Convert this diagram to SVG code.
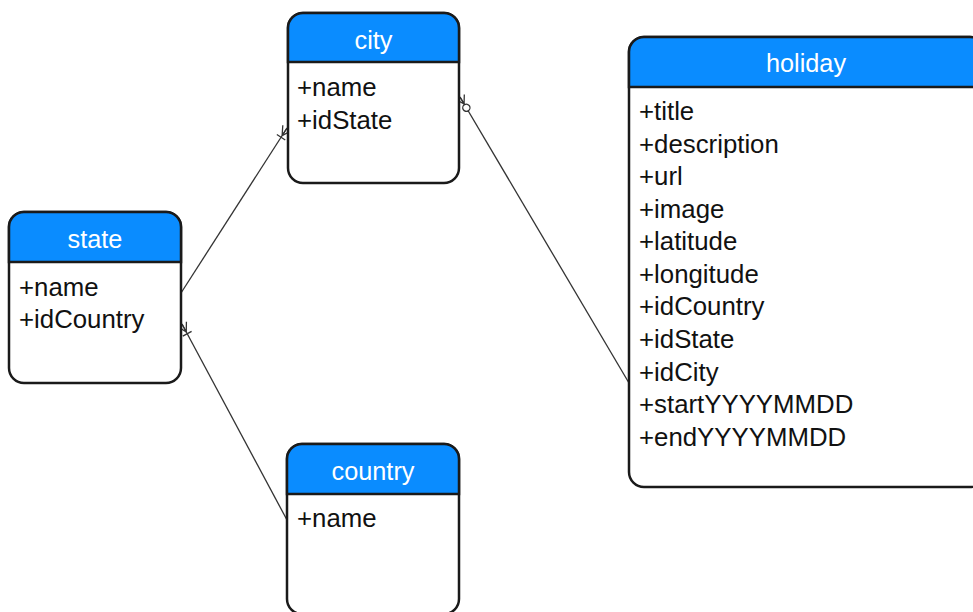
<svg xmlns="http://www.w3.org/2000/svg" width="973" height="612" viewBox="0 0 973 612">
  <style>
    .box { fill: #ffffff; stroke: #1a1a1a; stroke-width: 2.5; }
    .head { fill: #0a8cff; stroke: #1a1a1a; stroke-width: 2.5; }
    .title { font-family: "Liberation Sans", Arial, sans-serif; font-size: 25.3px; fill: #ffffff; text-anchor: middle; }
    .attr { font-family: "Liberation Sans", Arial, sans-serif; font-size: 25.8px; fill: #111111; }
    .link { fill: none; stroke: #333333; stroke-width: 1.3; }
  </style>
  <defs>
    <!-- one-or-many: crow's foot with a bar -->
    <marker id="many" markerUnits="userSpaceOnUse" viewBox="-16 -8 18 16" refX="0" refY="0" markerWidth="18" markerHeight="16" orient="auto" overflow="visible">
      <path d="M-9,0 L0,-5 M-9,0 L0,0 M-9,0 L0,5 M-11,-5 L-11,5" fill="none" stroke="#333333" stroke-width="1.3"/>
    </marker>
    <!-- zero-or-many: crow's foot with a ring -->
    <marker id="zeromany" markerUnits="userSpaceOnUse" viewBox="-20 -8 22 16" refX="0" refY="0" markerWidth="22" markerHeight="16" orient="auto" overflow="visible">
      <path d="M-8,0 L0,-5 M-8,0 L0,0 M-8,0 L0,5" fill="none" stroke="#333333" stroke-width="1.3"/>
      <circle cx="-12.5" cy="0" r="3.6" fill="#ffffff" stroke="#333333" stroke-width="1.3"/>
    </marker>
  </defs>

  <g id="connectors">
    <line class="link" x1="181" y1="293" x2="287" y2="128" marker-end="url(#many)"/>
    <line class="link" x1="629" y1="383" x2="460" y2="97" marker-end="url(#zeromany)"/>
    <line class="link" x1="287" y1="520" x2="182" y2="324" marker-end="url(#many)"/>
  </g>

  <g id="city">
    <rect class="box" x="288" y="13" width="171" height="170" rx="15"/>
    <path class="head" d="M288,62 V28 A15,15 0 0 1 303,13 H444 A15,15 0 0 1 459,28 V62 Z"/>
    <text class="title" x="373.5" y="49">city</text>
    <text class="attr" x="297" y="96">+name</text>
    <text class="attr" x="297" y="129">+idState</text>
  </g>

  <g id="state">
    <rect class="box" x="9" y="212" width="172" height="171" rx="15"/>
    <path class="head" d="M9,262 V227 A15,15 0 0 1 24,212 H166 A15,15 0 0 1 181,227 V262 Z"/>
    <text class="title" x="95" y="248">state</text>
    <text class="attr" x="19" y="296">+name</text>
    <text class="attr" x="19" y="328">+idCountry</text>
  </g>

  <g id="country">
    <rect class="box" x="287" y="444" width="172" height="170" rx="15"/>
    <path class="head" d="M287,494 V459 A15,15 0 0 1 302,444 H444 A15,15 0 0 1 459,459 V494 Z"/>
    <text class="title" x="373" y="480">country</text>
    <text class="attr" x="297" y="527">+name</text>
  </g>

  <g id="holiday">
    <rect class="box" x="629" y="37" width="356" height="450" rx="15"/>
    <path class="head" d="M629,87 V52 A15,15 0 0 1 644,37 H970 A15,15 0 0 1 985,52 V87 Z"/>
    <text class="title" x="806" y="72">holiday</text>
    <text class="attr" x="639" y="120">+title</text>
    <text class="attr" x="639" y="153">+description</text>
    <text class="attr" x="639" y="185">+url</text>
    <text class="attr" x="639" y="218">+image</text>
    <text class="attr" x="639" y="250">+latitude</text>
    <text class="attr" x="639" y="283">+longitude</text>
    <text class="attr" x="639" y="315">+idCountry</text>
    <text class="attr" x="639" y="348">+idState</text>
    <text class="attr" x="639" y="381">+idCity</text>
    <text class="attr" x="639" y="413">+startYYYYMMDD</text>
    <text class="attr" x="639" y="446">+endYYYYMMDD</text>
  </g>
</svg>
